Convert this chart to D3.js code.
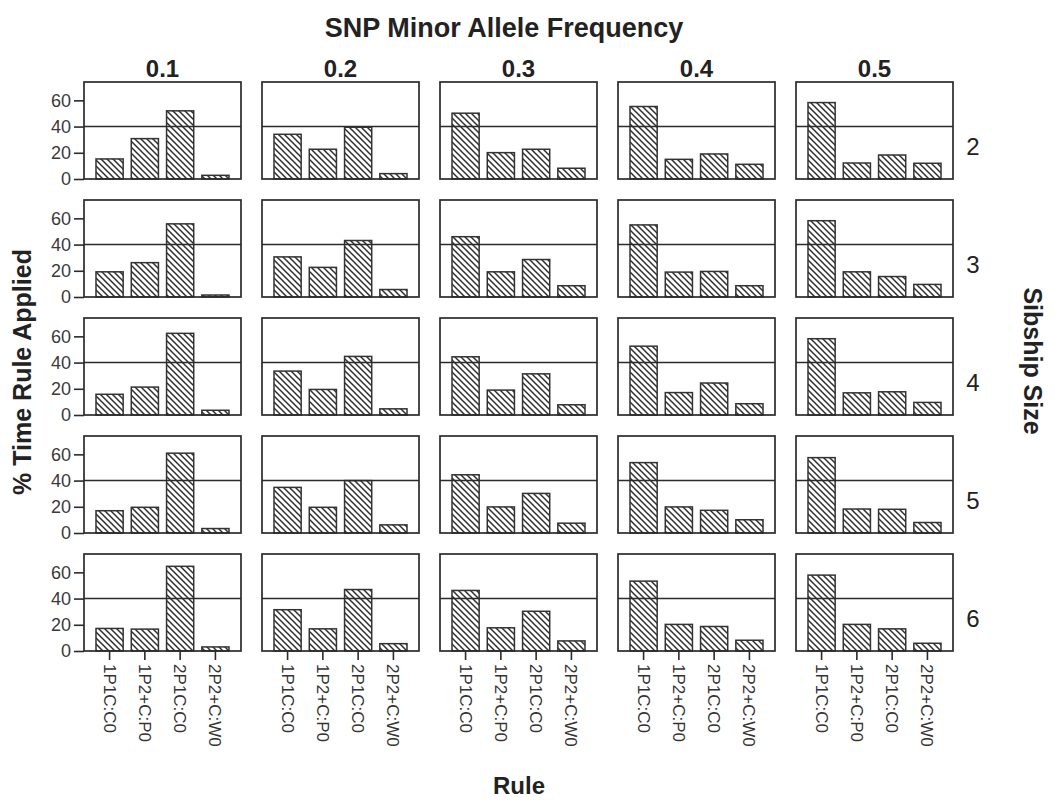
<!DOCTYPE html>
<html>
<head>
<meta charset="utf-8">
<script src="https://cdn.jsdelivr.net/npm/d3@7"></script>
<style>
  html, body { margin: 0; padding: 0; background: #fff; }
  svg { display: block; font-family: Arial, "Liberation Sans", Helvetica, sans-serif; }
</style>
</head>
<body>
<svg id="chart" width="1055" height="800"></svg>
<script>
// ---- data ----
const freqs = ["0.1", "0.2", "0.3", "0.4", "0.5"];
const sibships = ["2", "3", "4", "5", "6"];
const rules = ["1P1C:C0", "1P2+C:P0", "2P1C:C0", "2P2+C:W0"];
const yTicks = [0, 20, 40, 60];
const refValue = 40;
// values per sibship size: one array per MAF column, in rule order
const sib2 = [[15.3, 30.8, 52.0, 2.8], [34.1, 22.7, 39.5, 4.1], [50.2, 20.1, 22.7, 8.2], [55.3, 15.0, 19.1, 11.2], [58.3, 12.2, 18.3, 12.0]];
const sib3 = [[19.2, 26.2, 55.8, 1.5], [30.6, 22.6, 43.1, 5.7], [46.0, 19.2, 28.6, 8.6], [55.0, 19.0, 19.5, 8.6], [58.2, 19.2, 15.6, 9.6]];
const sib4 = [[15.8, 21.3, 62.3, 3.6], [33.5, 19.5, 44.7, 4.7], [44.4, 19.0, 31.4, 7.8], [52.5, 17.1, 24.4, 8.6], [58.2, 16.9, 17.7, 9.6]];
const sib5 = [[17.0, 19.6, 60.9, 3.4], [34.8, 19.6, 40.0, 6.2], [44.4, 19.9, 30.2, 7.5], [53.7, 19.9, 17.3, 10.1], [57.5, 18.3, 18.1, 8.0]];
const sib6 = [[17.2, 16.7, 64.6, 3.1], [31.5, 16.9, 46.9, 5.6], [46.2, 17.7, 30.3, 7.7], [53.3, 20.3, 18.7, 8.2], [57.9, 20.3, 16.9, 5.9]];
const allValues = [sib2, sib3, sib4, sib5, sib6];

// ---- layout ----
const svg = d3.select("#chart");
const ink = "#2b2b2b";

const defs = svg.append("defs");
const P = 6;
const pat = defs.append("pattern")
  .attr("id", "hatch").attr("patternUnits", "userSpaceOnUse")
  .attr("width", P).attr("height", P);
pat.append("rect").attr("width", P).attr("height", P).attr("fill", "#fff");
pat.append("path")
  .attr("d", `M-1,-1L${P + 1},${P + 1}M${P - 1},-1L${P + 1},1M-1,${P - 1}L1,${P + 1}`)
  .attr("stroke", "#303030").attr("stroke-width", 1.5).attr("fill", "none");

const colScale = d3.scaleBand().domain(freqs).range([84, 953]).paddingInner(0.118);
const rowScale = d3.scaleBand().domain(sibships).range([82, 651]).paddingInner(0.178);
const pw = colScale.bandwidth();
const ph = rowScale.bandwidth();
const x = d3.scaleBand().domain(rules).range([0, pw]).paddingInner(0.23).paddingOuter(0.34);
const y = d3.scaleLinear().domain([0, 74]).range([ph, 0]);

sibships.forEach((s, ri) => {
  freqs.forEach((f, ci) => {
    const g = svg.append("g")
      .attr("transform", `translate(${colScale(f)},${rowScale(s)})`);
    const vals = allValues[ri][ci];
    // bars
    g.selectAll("rect.bar").data(rules).enter().append("rect")
      .attr("class", "bar")
      .attr("x", r => x(r))
      .attr("width", x.bandwidth())
      .attr("y", (r, i) => y(vals[i]))
      .attr("height", (r, i) => y(0) - y(vals[i]))
      .attr("fill", "url(#hatch)")
      .attr("stroke", "#333").attr("stroke-width", 1.5);
    // reference line
    g.append("line")
      .attr("x1", 0).attr("x2", pw)
      .attr("y1", y(refValue)).attr("y2", y(refValue))
      .attr("stroke", ink).attr("stroke-width", 1.6);
    // frame
    g.append("rect")
      .attr("x", 0).attr("y", 0).attr("width", pw).attr("height", ph)
      .attr("fill", "none").attr("stroke", ink).attr("stroke-width", 1.7);

    if (ci === 0) {
      const ya = g.append("g").call(d3.axisLeft(y).tickValues(yTicks).tickSize(10).tickSizeOuter(0));
      ya.select(".domain").remove();
      ya.selectAll(".tick line").attr("stroke", ink).attr("stroke-width", 1.6);
      ya.selectAll(".tick text")
        .attr("font-size", 18).attr("fill", "#3a3a3a")
        .attr("font-family", "Arial, 'Liberation Sans', sans-serif")
        .attr("x", -13);
    }
    if (ri === sibships.length - 1) {
      const xa = g.append("g").attr("transform", `translate(0,${ph})`)
        .call(d3.axisBottom(x).tickSize(9).tickSizeOuter(0));
      xa.select(".domain").remove();
      xa.selectAll(".tick line").attr("stroke", ink).attr("stroke-width", 1.6);
      xa.selectAll(".tick text")
        .attr("font-size", 17).attr("fill", "#333")
        .attr("font-family", "Arial, 'Liberation Sans', sans-serif")
        .attr("transform", "rotate(90)")
        .attr("text-anchor", "start")
        .attr("x", 13).attr("y", 0).attr("dy", "0.35em");
    }
  });
});

// column titles
svg.selectAll("text.coltitle").data(freqs).enter().append("text")
  .attr("class", "coltitle")
  .attr("x", f => colScale(f) + pw / 2)
  .attr("y", 77)
  .attr("text-anchor", "middle")
  .attr("font-size", 24).attr("font-weight", "bold").attr("fill", "#222")
  .text(f => f);

// row labels
svg.selectAll("text.rowlabel").data(sibships).enter().append("text")
  .attr("class", "rowlabel")
  .attr("x", 973)
  .attr("y", s => rowScale(s) + ph / 2 + 16)
  .attr("text-anchor", "middle")
  .attr("dominant-baseline", "central")
  .attr("font-size", 24).attr("fill", "#222")
  .text(s => s);

// titles
svg.append("text")
  .attr("x", 504).attr("y", 37)
  .attr("text-anchor", "middle")
  .attr("font-size", 27).attr("font-weight", "bold").attr("fill", "#222")
  .text("SNP Minor Allele Frequency");

svg.append("text")
  .attr("transform", "translate(22,372) rotate(-90)")
  .attr("text-anchor", "middle").attr("dominant-baseline", "central")
  .attr("font-size", 25).attr("font-weight", "bold").attr("fill", "#222")
  .text("% Time Rule Applied");

svg.append("text")
  .attr("transform", "translate(1033,361) rotate(90)")
  .attr("text-anchor", "middle").attr("dominant-baseline", "central")
  .attr("font-size", 25).attr("font-weight", "bold").attr("fill", "#222")
  .text("Sibship Size");

svg.append("text")
  .attr("x", 519).attr("y", 794)
  .attr("text-anchor", "middle")
  .attr("font-size", 24).attr("font-weight", "bold").attr("fill", "#222")
  .text("Rule");
</script>
</body>
</html>
